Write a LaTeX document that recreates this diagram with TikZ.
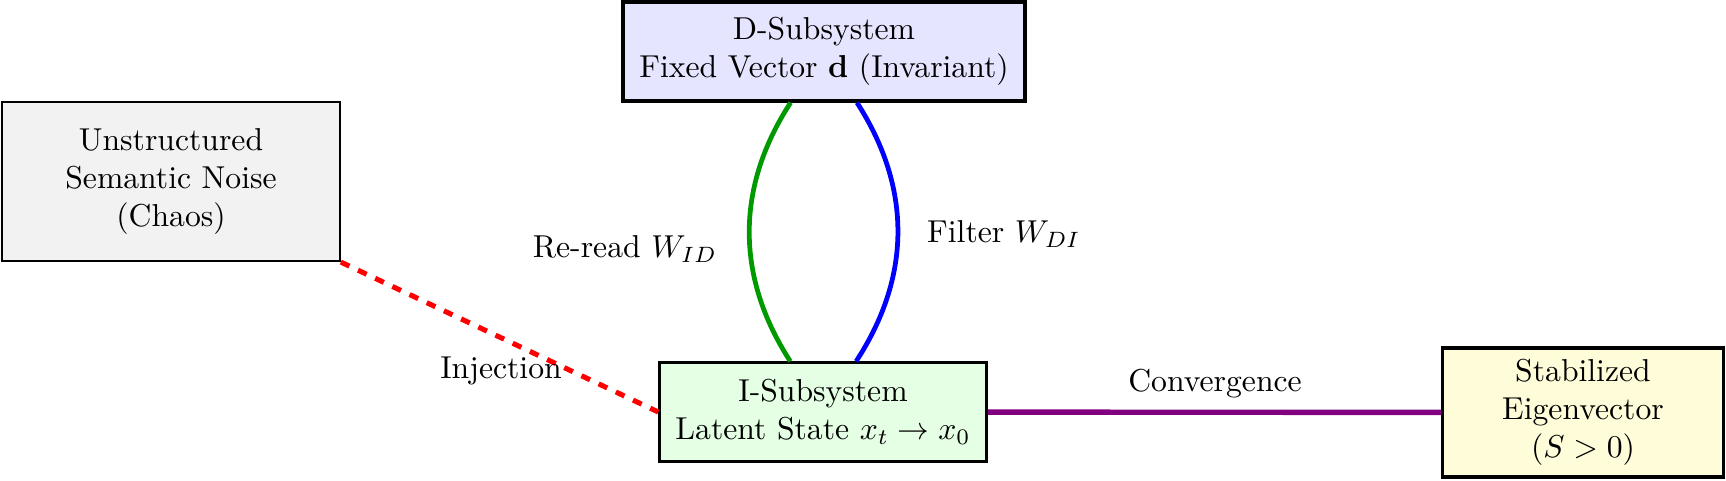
\documentclass[tikz,border=0pt]{standalone}
\usepackage{amsmath}
\begin{document}
\begin{tikzpicture}[x=0.011086cm, y=-0.011086cm,
  box/.style={draw=black, line width=1pt, align=center, inner sep=2pt},
  lbl/.style={inner sep=1pt, font=\normalsize}]
\useasboundingbox (0,0) rectangle (1726,481);
\node[box, fill=blue!10, minimum width=4.46cm, minimum height=1.10cm] (D) at (824,51.5) {D-Subsystem\\Fixed Vector $\mathbf{d}$ (Invariant)};
\node[box, line width=0.5pt, fill=gray!10, minimum width=3.75cm, minimum height=1.77cm] (N) at (171,181.5) {Unstructured\\Semantic Noise\\(Chaos)};
\node[box, fill=green!10, minimum width=3.62cm, minimum height=1.09cm] (I) at (823,412) {I-Subsystem\\Latent State $x_t \to x_0$};
\node[box, fill=yellow!15, minimum width=3.11cm, minimum height=1.43cm] (S) at (1583,412.5) {Stabilized\\Eigenvector\\$(S>0)$};
\draw[green!60!black, line width=1.5pt] (D) to[bend right=33] (I);
\draw[blue, line width=1.5pt] (I) to[bend right=33] (D);
\draw[red, line width=1.6pt, dashed] (N.south east) -- (I.west);
\draw[violet, line width=1.7pt] (I) -- (S);
\node[lbl] (lre) at (625,249) {Re-read $W_{ID}$};
\node[lbl] (lfi) at (1004,234) {Filter $W_{DI}$};
\node[lbl] (lin) at (501,371) {Injection};
\node[lbl] (lco) at (1215,384) {Convergence};
\end{tikzpicture}
\end{document}
